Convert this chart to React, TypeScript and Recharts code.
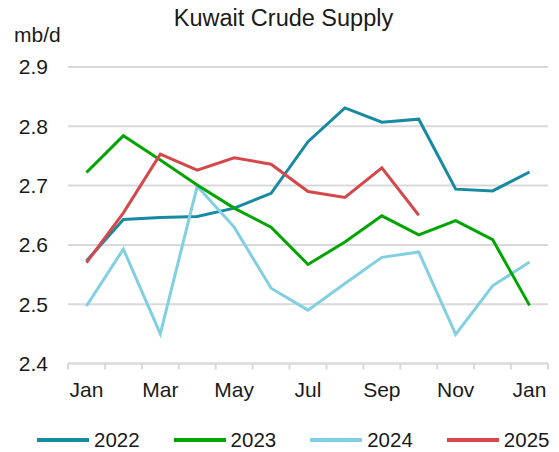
import React from "react";
import { LineChart, Line, XAxis, YAxis, CartesianGrid, Legend } from "recharts";

const months = ["Jan", "Feb", "Mar", "Apr", "May", "Jun", "Jul", "Aug", "Sep", "Oct", "Nov", "Dec", "Jan"];
const yTicks = [2.4, 2.5, 2.6, 2.7, 2.8, 2.9];

const s2022 = [2.573, 2.643, 2.646, 2.648, 2.662, 2.687, 2.774, 2.831, 2.807, 2.812, 2.694, 2.691, 2.723];
const s2023 = [2.722, 2.784, 2.743, 2.701, 2.662, 2.63, 2.567, 2.605, 2.649, 2.617, 2.641, 2.609, 2.498];
const s2024 = [2.497, 2.593, 2.45, 2.699, 2.63, 2.527, 2.49, 2.535, 2.579, 2.588, 2.449, 2.531, 2.571];
const s2025 = [2.57, 2.654, 2.753, 2.726, 2.747, 2.736, 2.69, 2.68, 2.73, 2.65];

const series = [
  { key: "y2022", name: "2022", color: "#178aa2" },
  { key: "y2024", name: "2024", color: "#81cfe2" },
  { key: "y2023", name: "2023", color: "#00a500" },
  { key: "y2025", name: "2025", color: "#d4474b" },
];
const legendOrder = ["y2022", "y2023", "y2024", "y2025"];

const data = months.map((m, i) => ({
  i,
  month: m,
  y2022: s2022[i],
  y2023: s2023[i],
  y2024: s2024[i],
  y2025: i < s2025.length ? s2025[i] : null,
}));

// boundaries get tick marks, even months get labels
const xTicks: number[] = [];
for (let i = 0; i <= 12; i++) {
  xTicks.push(i - 0.5);
  if (i % 2 === 0) xTicks.push(i);
}
xTicks.push(12.5);

const FONT = "'Liberation Sans', Arial, sans-serif";

function MonthTick(props: any) {
  const { x, y, payload } = props;
  const v = payload.value;
  if (!Number.isInteger(v)) {
    return <line x1={x} x2={x} y1={y} y2={y + 6} stroke="#d9d9d9" strokeWidth={2} />;
  }
  return (
    <text x={x} y={y + 33} textAnchor="middle" fontSize={21} fill="#1a1a1a" fontFamily={FONT}>
      {months[v]}
    </text>
  );
}

function renderLegend() {
  return (
    <div style={{ height: 24, display: "flex", alignItems: "center", paddingLeft: 37, gap: 34, fontFamily: FONT }}>
      {legendOrder.map((k) => {
        const s = series.find((x) => x.key === k)!;
        return (
          <div key={k} style={{ display: "flex", alignItems: "center", gap: 5 }}>
            <div style={{ width: 52, height: 4, background: s.color }} />
            <span style={{ fontSize: 20.5, color: "#1a1a1a", lineHeight: "24px" }}>{s.name}</span>
          </div>
        );
      })}
    </div>
  );
}

export default function App() {
  return (
    <div style={{ position: "fixed", left: 0, top: 0, width: 559, height: 452, background: "#fff", fontFamily: FONT }}>
      <div style={{ position: "absolute", left: 4, width: 559, top: 5, textAlign: "center", fontSize: 23.5, color: "#1a1a1a" }}>
        Kuwait Crude Supply
      </div>
      <div style={{ position: "absolute", left: 14, top: 23, fontSize: 21, color: "#1a1a1a" }}>mb/d</div>
      <LineChart width={559} height={452} data={data} margin={{ top: 67, right: 11, left: 0, bottom: 0 }}>
        <CartesianGrid vertical={false} stroke="#d9d9d9" strokeWidth={2} />
        <XAxis
          dataKey="i"
          type="number"
          domain={[-0.5, 12.5]}
          ticks={xTicks}
          interval={0}
          tick={<MonthTick />}
          tickLine={false}
          tickSize={0}
          tickMargin={0}
          height={64.5}
          axisLine={{ stroke: "#d9d9d9", strokeWidth: 2 }}
        />
        <YAxis
          domain={[2.4, 2.9]}
          ticks={yTicks}
          width={68}
          tickSize={0}
          tickMargin={20}
          axisLine={false}
          tickLine={false}
          tickFormatter={(v: number) => v.toFixed(1)}
          tick={{ fontSize: 21, fill: "#1a1a1a", fontFamily: FONT }}
        />
        <Legend verticalAlign="bottom" content={renderLegend} />
        {series.map((s) => (
          <Line
            key={s.key}
            dataKey={s.key}
            name={s.name}
            stroke={s.color}
            strokeWidth={3}
            dot={false}
            type="linear"
            isAnimationActive={false}
          />
        ))}
      </LineChart>
    </div>
  );
}
